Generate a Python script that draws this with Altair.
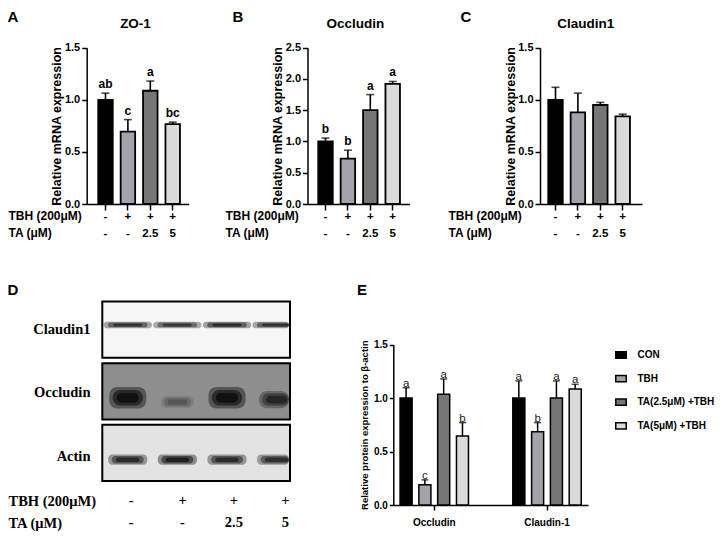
import altair as alt
import pandas as pd

# ---------------- data ----------------
groups = ["CON", "TBH", "TA(2.5μM) +TBH", "TA(5μM) +TBH"]
lanes = [1, 2, 3, 4]
tbh_row = ["-", "+", "+", "+"]
ta_row = ["-", "-", "2.5", "5"]

zo1_mean = [1.00, 0.695, 1.087, 0.766]
zo1_err = [0.064, 0.115, 0.093, 0.020]
zo1_sig = ["ab", "c", "a", "bc"]

occ_mean = [1.00, 0.725, 1.50, 1.92]
occ_err = [0.055, 0.135, 0.25, 0.04]
occ_sig = ["b", "b", "a", "a"]

cld_mean = [1.00, 0.88, 0.95, 0.84]
cld_err = [0.12, 0.184, 0.025, 0.022]

prot_targets = ["Occludin", "Claudin-1"]
prot_occ_mean = [1.00, 0.19, 1.035, 0.645]
prot_occ_err = [0.096, 0.045, 0.143, 0.125]
prot_occ_sig = ["a", "c", "a", "b"]
prot_cld_mean = [1.00, 0.685, 1.00, 1.084]
prot_cld_err = [0.16, 0.085, 0.16, 0.044]
prot_cld_sig = ["a", "b", "a", "a"]

blot_proteins = ["Claudin1", "Occludin", "Actin"]
blot_claudin1 = [0.80, 0.75, 0.85, 0.80]
blot_occludin = [1.00, 0.30, 1.00, 0.70]
blot_actin = [0.85, 0.95, 0.85, 0.80]

# ---------------- styles / layout ----------------
W, H, OFF = 706, 523, 8
SANS = "Liberation Sans"
SERIF = "Liberation Serif"
bar_colors = ["#000000", "#a3a3ab", "#767676", "#dadada"]
blot_bg = ["#f6f6f6", "#8e8e8e", "#e3e3e3"]


def P(v):
    return v - OFF


LAB = "[" + ",".join("['%s','%s']" % (a, b) for a, b in zip(tbh_row, ta_row)) + "][toNumber(datum.value) - 1]"


def band_scale(axis_x, end_x, first_c, step, bw, n=4):
    pi = 1 - bw / step
    width = end_x - axis_x
    po = (width / step - n + pi) / 2
    left = first_c - bw / 2 - axis_x
    spare = width - step * (n - pi)
    return alt.Scale(range=[P(axis_x), P(end_x)], paddingInner=pi, paddingOuter=po,
                     align=left / spare, round=False)


def mrna_panel(means, errs, sigs, ymax, axis_x, first_c, title_x):
    df = pd.DataFrame({"lane": lanes, "grp": groups, "mean": means,
                       "top": [m + e for m, e in zip(means, errs)],
                       "sig": sigs if sigs else [""] * 4})
    xs = band_scale(axis_x, axis_x + 102, first_c, 22.4, 14.5)
    ys = alt.Scale(domain=[0, ymax], range=[P(204), P(47.7)], nice=False, zero=True)
    yticks = [i * 0.5 for i in range(int(round(ymax / 0.5)) + 1)]
    xaxis = alt.Axis(orient="bottom", offset=P(204) - H, labelExpr=LAB, labelAngle=0,
                     labelFont=SANS, labelFontSize=11.5, labelFontWeight="bold",
                     labelLineHeight=17, labelPadding=0.2, labelBaseline="top",
                     tickSize=6, title=["TBH (200μM)", "TA (μM)"], titleX=max(P(title_x), 0),
                     titleY=6.6, titleAlign="left", titleBaseline="top", titleAngle=0,
                     titleFont=SANS, titleFontSize=12, titleFontWeight="bold",
                     titleLineHeight=17)
    yaxis = alt.Axis(orient="left", offset=-P(axis_x), values=yticks, format=".1f",
                     labelFont=SANS, labelFontSize=11, labelFontWeight="bold",
                     labelPadding=2, tickSize=5, title="Relative mRNA expression",
                     titleX=-30, titleBaseline="middle", titleAngle=270, titleFont=SANS,
                     titleFontSize=12.5, titleFontWeight="bold")
    base = alt.Chart(df)
    xe = alt.X("lane:O", scale=xs, axis=xaxis)
    bars = base.mark_bar(stroke="black", strokeWidth=1.8).encode(
        x=xe, y=alt.Y("mean:Q", scale=ys, axis=yaxis),
        color=alt.Color("grp:N", scale=alt.Scale(domain=groups, range=bar_colors), legend=None))
    err = base.mark_rule(color="black", strokeWidth=1.6).encode(
        x=xe, y=alt.Y("mean:Q", scale=ys, axis=yaxis), y2=alt.Y2("top"))
    cap = base.mark_tick(color="black", size=8, thickness=1.6).encode(
        x=xe, y=alt.Y("top:Q", scale=ys, axis=yaxis))
    layers = [bars, err, cap]
    if sigs:
        layers.append(base.mark_text(font=SANS, fontSize=12, fontWeight="bold", baseline="bottom",
                                     dy=-2, color="black").encode(
            x=xe, y=alt.Y("top:Q", scale=ys, axis=yaxis), text="sig:N"))
    return alt.layer(*layers)


pA = mrna_panel(zo1_mean, zo1_err, zo1_sig, 1.5, 86.7, 105.5, 7)
pB = mrna_panel(occ_mean, occ_err, occ_sig, 2.5, 307.5, 325.5, 225)
pC = mrna_panel(cld_mean, cld_err, None, 1.5, 540, 555.5, 448)

# ---------------- panel E ----------------
e_rows = []
for tgt, means, errs, sigs in [(prot_targets[0], prot_occ_mean, prot_occ_err, prot_occ_sig),
                               (prot_targets[1], prot_cld_mean, prot_cld_err, prot_cld_sig)]:
    for g, m, e, s in zip(groups, means, errs, sigs):
        e_rows.append({"target": tgt, "grp": g, "mean": m, "top": m + e, "sig": s})
edf = pd.DataFrame(e_rows)
exs = alt.Scale(domain=prot_targets, range=[P(393.3), P(588)], paddingInner=0.333,
                paddingOuter=0.03, round=False)
eoff = alt.XOffset("grp:N", sort=groups,
                   scale=alt.Scale(domain=groups, paddingInner=0.36, paddingOuter=0.18, round=False))
eys = alt.Scale(domain=[0, 1.5], range=[P(505), P(344.5)], nice=False, zero=True)
e_xaxis = alt.Axis(orient="bottom", offset=P(505) - H, title=None, labelAngle=0, labelFont=SANS,
                   labelFontSize=10, labelFontWeight="bold", labelPadding=7, tickSize=5)
e_yaxis = alt.Axis(orient="left", offset=-P(393.3), values=[0, 0.5, 1.0, 1.5], format=".1f",
                   labelFont=SANS, labelFontSize=10, labelFontWeight="bold", labelPadding=2,
                   tickSize=4, title="Relative protein expression to β-actin", titleX=-28.5,
                   titleBaseline="middle", titleAngle=270, titleFont=SANS, titleFontSize=9.5,
                   titleFontWeight="bold")
ebase = alt.Chart(edf)
exe = alt.X("target:N", sort=prot_targets, scale=exs, axis=e_xaxis)
e_bars = ebase.mark_bar(stroke="black", strokeWidth=1.5).encode(
    x=exe, xOffset=eoff,
    y=alt.Y("mean:Q", scale=eys, axis=e_yaxis),
    color=alt.Color("grp:N", scale=alt.Scale(domain=groups, range=bar_colors),
                    legend=alt.Legend(orient="none", legendX=P(615), legendY=P(349), title=None,
                                      symbolType="M-1,-0.6H1V0.6H-1Z", symbolSize=110,
                                      symbolStrokeColor="black", symbolStrokeWidth=1.5,
                                      labelFont=SANS, labelFontSize=10, labelFontWeight="bold",
                                      labelColor="black", rowPadding=9.6, labelOffset=10.5,
                                      padding=0)))
e_err = ebase.mark_rule(color="black", strokeWidth=1.5).encode(
    x=exe, xOffset=eoff, y=alt.Y("mean:Q", scale=eys, axis=e_yaxis), y2=alt.Y2("top"))
e_cap = ebase.mark_tick(color="black", size=7, thickness=1.5).encode(
    x=exe, xOffset=eoff, y=alt.Y("top:Q", scale=eys, axis=e_yaxis))
e_txt = ebase.mark_text(font=SANS, fontSize=11.5, baseline="bottom", dy=1, color="#222222").encode(
    x=exe, xOffset=eoff, y=alt.Y("top:Q", scale=eys, axis=e_yaxis), text="sig:N")
pE = alt.layer(e_bars, e_err, e_cap, e_txt)

# ---------------- panel D (western blot) ----------------
box_rows, band_rows, lab_rows = [], [], []
rings = [(1.0, 1.0, 0.4), (0.82, 0.72, 0.5), (0.6, 0.45, 0.6)]
for r, (prot, lev) in enumerate(zip(blot_proteins, [blot_claudin1, blot_occludin, blot_actin])):
    y0 = r * 1.025
    box_rows.append({"prot": prot, "x": 0.45, "x2": 4.1, "y": y0, "y2": y0 + 0.935})
    lab_rows.append({"prot": prot, "y": y0 + 0.4675 + 0.03 * r})
    for lane, d in zip(lanes, lev):
        cx = lane * 0.965 - 0.02
        if prot == "Claudin1":
            yc, hh, hw = 0.39, 0.055, 0.47
        elif prot == "Occludin":
            yc, hh, hw = 1.70 - 0.10 * d, 0.06 + 0.12 * d, 0.30 + 0.06 * d
        else:
            yc, hh, hw = 2.63, 0.085, 0.38
        for k, (fw, fh, fo) in enumerate(rings):
            band_rows.append({"prot": prot, "ring": k,
                              "x": max(cx - hw * fw, 0.47), "x2": min(cx + hw * fw, 4.08),
                              "y": yc - hh * fh, "y2": yc + hh * fh, "op": min(1.0, d * fo)})
box_df = pd.DataFrame(box_rows)
band_df = pd.DataFrame(band_rows)
lab_df = pd.DataFrame(lab_rows)

bxs = alt.Scale(domain=[0.45, 4.1], range=[P(102.3), P(290)], nice=False, zero=False)
bys = alt.Scale(domain=[0, 3], range=[P(301.5), P(482)], nice=False, zero=False)
blot_axis = alt.Axis(orient="bottom", offset=P(487) - H, values=lanes, labelExpr=LAB,
                     domain=False, ticks=False, grid=False, labelAngle=0, labelFont=SERIF,
                     labelFontSize=14.5, labelFontWeight="bold", labelPadding=6.5,
                     labelLineHeight=21.5, labelBaseline="top", labelOverlap=False,
                     labelFlush=False, title=["TBH (200μM)", "TA (μM)"], titleX=0, titleY=7.5,
                     titleAlign="left", titleBaseline="top", titleAngle=0, titleFont=SERIF,
                     titleFontSize=14.5, titleFontWeight="bold", titleLineHeight=21.5)
bx = alt.X("x:Q", scale=bxs, axis=blot_axis)
by = alt.Y("y:Q", scale=bys, axis=None)
d_fill = alt.Chart(box_df).mark_rect().encode(
    x=bx, x2="x2", y=by, y2="y2",
    fill=alt.Fill("prot:N", scale=alt.Scale(domain=blot_proteins, range=blot_bg), legend=None))
d_layers = [d_fill]
for prot, rad in zip(blot_proteins, [3, 8, 4]):
    d_layers.append(alt.Chart(band_df[band_df["prot"] == prot]).mark_rect(
        color="black", cornerRadius=rad).encode(
        x=bx, x2="x2", y=by, y2="y2",
        opacity=alt.Opacity("op:Q", scale=None)))
d_layers.append(alt.Chart(box_df).mark_rect(fillOpacity=0, stroke="black", strokeWidth=2).encode(
    x=bx, x2="x2", y=by, y2="y2"))
d_layers.append(alt.Chart(lab_df).mark_text(font=SERIF, fontSize=14.5, fontWeight="bold",
                                            align="right", baseline="middle", color="black").encode(
    x=alt.XDatum(0.22, scale=bxs, axis=blot_axis),
    y=by, text="prot:N"))
pD = alt.layer(*d_layers)

# ---------------- annotations ----------------
def note(text, x, y, size):
    return alt.Chart(pd.DataFrame({"t": [text]})).mark_text(
        font=SANS, fontSize=size, fontWeight="bold", align="center", baseline="middle",
        color="black").encode(x=alt.value(P(x)), y=alt.value(P(y)), text="t:N")


anns = [note("A", 13, 17, 15), note("B", 238, 17, 15), note("C", 466, 17, 15),
        note("D", 13, 290, 15), note("E", 362, 290, 15),
        note("ZO-1", 135.5, 23.5, 13.5), note("Occludin", 355.3, 23.5, 13.5),
        note("Claudin1", 585.8, 23.5, 13.5)]

chart = alt.layer(pA, pB, pC, pD, pE, *anns).resolve_scale(
    x="independent", y="independent", color="independent", fill="independent",
    opacity="independent").resolve_axis(x="independent", y="independent").resolve_legend(
    color="independent", fill="independent").properties(
    width=W, height=H, padding=0, autosize=alt.AutoSizeParams(type="none")).configure_view(
    stroke=None).configure_axis(grid=False, domainColor="black", tickColor="black",
                                labelColor="black", titleColor="black", domainWidth=1.5,
                                tickWidth=1.5)

chart.save("out.html", embed_options={"renderer": "svg", "actions": False})
